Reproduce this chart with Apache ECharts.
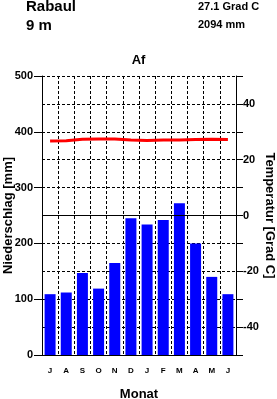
<!DOCTYPE html>
<html><head><meta charset="utf-8">
<script src="https://cdn.jsdelivr.net/npm/echarts@6/dist/echarts.min.js"></script>
<style>html,body{margin:0;padding:0;background:#fff}#c{width:277px;height:399px}</style>
</head><body><div id="c"></div>
<script>
var months = ['J','A','S','O','N','D','J','F','M','A','M','J'];
var precip = [109,112,147,119,165,245,234,242,272,200,140,109];
var temps = [26.7,26.8,27.3,27.4,27.4,27.1,26.9,27.1,27.1,27.2,27.3,27.2];
var station = 'Rabaul';
var elevation = '9 m';
var meanTemp = '27.1 Grad C';
var totalPrecip = '2094 mm';
var climate = 'Af';

var F = 'Liberation Sans, Arial, sans-serif';
var chart = echarts.init(document.getElementById('c'), null, {renderer:'canvas'});
chart.setOption({
  animation:false,
  backgroundColor:'#fff',
  title:[
    {text:station,left:26,top:-1,padding:0,textStyle:{fontFamily:F,fontSize:15,fontWeight:'bold',color:'#000'}},
    {text:elevation,left:26,top:18,padding:0,textStyle:{fontFamily:F,fontSize:15,fontWeight:'bold',color:'#000'}},
    {text:meanTemp,left:198,top:1,padding:0,textStyle:{fontFamily:F,fontSize:11,fontWeight:'bold',color:'#000'}},
    {text:totalPrecip,left:198,top:19,padding:0,textStyle:{fontFamily:F,fontSize:11,fontWeight:'bold',color:'#000'}},
    {text:climate,left:'center',top:54,padding:0,textStyle:{fontFamily:F,fontSize:13,fontWeight:'bold',color:'#000'}}
  ],
  grid:{left:42,right:41,top:76,bottom:44,containLabel:false,outerBoundsMode:'none'},
  xAxis:{type:'category',data:months,boundaryGap:true,
    name:'Monat',nameLocation:'middle',nameGap:33,nameMoveOverlap:false,
    nameTextStyle:{fontFamily:F,fontSize:13,fontWeight:'bold',color:'#000'},
    axisLine:{lineStyle:{color:'#000',width:1}},
    axisTick:{show:false},
    axisLabel:{fontFamily:F,fontSize:8,fontWeight:'bold',color:'#000',margin:12,interval:0},
    splitLine:{show:true,lineStyle:{color:'#000',type:[3,2],width:1}}
  },
  yAxis:[
    {type:'value',min:0,max:500,interval:100,
     name:'Niederschlag [mm]',nameLocation:'middle',nameGap:27,nameRotate:90,nameMoveOverlap:false,
     nameTextStyle:{fontFamily:F,fontSize:13,fontWeight:'bold',color:'#000'},
     axisLine:{show:true,lineStyle:{color:'#000',width:1}},
     axisTick:{show:true,length:8,lineStyle:{color:'#000'}},
     axisLabel:{fontFamily:F,fontSize:11,fontWeight:'bold',color:'#000',margin:9},
     splitLine:{show:true,lineStyle:{color:'#000',type:[3,2],width:1}},
     minorTick:{show:false,splitNumber:2},
     minorSplitLine:{show:true,lineStyle:{color:'#000',type:[3,2],width:1}}
    },
    {type:'value',min:-50,max:50,interval:10,position:'right',
     name:'Temperatur [Grad C]',nameLocation:'middle',nameGap:27,nameRotate:-90,nameMoveOverlap:false,
     nameTextStyle:{fontFamily:F,fontSize:13,fontWeight:'bold',color:'#000'},
     axisLine:{show:true,lineStyle:{color:'#000',width:1}},
     axisTick:{show:true,length:7,lineStyle:{color:'#000'}},
     axisLabel:{fontFamily:F,fontSize:11,fontWeight:'bold',color:'#000',margin:7,
       formatter:function(v){return (v%20===0)?String(v):'';}},
     splitLine:{show:false}
    }
  ],
  series:[
    {type:'bar',data:precip,yAxisIndex:0,barWidth:'68%',itemStyle:{color:'#0000ff'}},
    {type:'line',data:temps,yAxisIndex:1,symbol:'none',lineStyle:{color:'#ff0000',width:3},
     markLine:{silent:true,symbol:['none','none'],label:{show:false},
       lineStyle:{color:'#000',type:'solid',width:1},data:[{yAxis:0}]}}
  ]
});
</script></body></html>
